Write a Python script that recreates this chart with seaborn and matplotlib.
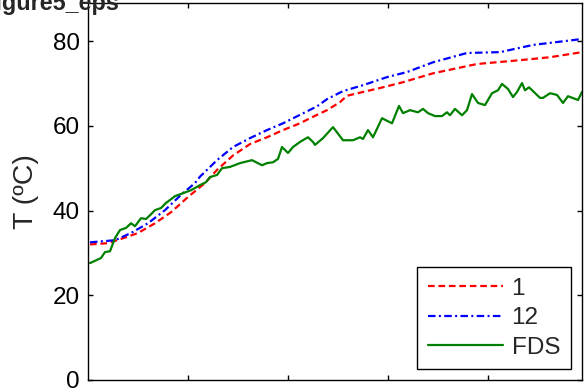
import numpy as np
import pandas as pd
import matplotlib
matplotlib.use("Agg")
import matplotlib.pyplot as plt
import seaborn as sns

# Model runs (cases 1 and 12) sampled on a common time grid
t_case1 = [2, 20, 33, 50, 67, 83, 100, 117, 129, 145, 162, 179, 195, 212, 222,
           239, 252, 259, 275, 295, 315, 335, 345, 389, 432, 462, 494]
temp_case1 = [32.0, 32.3, 33.3, 34.7, 37.0, 39.6, 43.2, 46.5, 49.6, 53.0, 55.7,
              57.3, 59.0, 60.6, 61.8, 63.7, 65.6, 67.1, 68.0, 69.1, 70.3, 71.7,
              72.4, 74.6, 75.5, 76.2, 77.4]

t_case12 = [2, 27, 43, 60, 77, 93, 107, 112, 129, 145, 162, 179, 195, 212, 229,
            239, 255, 275, 299, 319, 345, 379, 412, 445, 494]
temp_case12 = [32.5, 33.0, 34.7, 37.0, 40.1, 43.7, 46.5, 48.0, 51.9, 55.0, 57.1,
               59.0, 60.6, 62.6, 64.6, 66.3, 68.2, 69.6, 71.5, 72.7, 75.0, 77.2,
               77.4, 79.1, 80.5]

# FDS simulation
t_fds = [2, 13, 17, 22, 27, 32, 38, 43, 47, 53, 58, 62, 67, 73, 78, 82, 87, 95,
         103, 112, 118, 122, 129, 134, 142, 152, 164, 174, 179, 185, 190, 194,
         200, 205, 212, 217, 220, 225, 227, 235, 245, 255, 265, 272, 275, 280,
         285, 294, 304, 311, 315, 322, 330, 335, 340, 347, 354, 359, 362, 367,
         374, 379, 384, 390, 397, 404, 410, 414, 420, 425, 429, 434, 437, 441,
         452, 455, 462, 469, 475, 480, 490, 494]
temp_fds = [27.6, 28.8, 30.2, 30.4, 33.5, 35.4, 35.9, 37.0, 36.3, 38.2, 38.0,
            38.9, 40.1, 40.6, 41.8, 42.5, 43.4, 44.1, 44.8, 46.0, 46.7, 47.9,
            48.4, 50.0, 50.3, 51.2, 51.9, 50.7, 51.2, 51.4, 52.2, 55.0, 53.6,
            55.0, 56.2, 56.9, 57.3, 56.2, 55.5, 57.1, 59.7, 56.6, 56.6, 57.3,
            56.9, 59.0, 57.3, 61.8, 60.6, 64.7, 63.0, 63.7, 63.2, 64.0, 63.0,
            62.3, 62.3, 63.2, 62.5, 64.0, 62.5, 63.7, 67.5, 65.4, 64.9, 67.7,
            68.4, 69.9, 68.7, 66.8, 68.0, 70.1, 68.4, 69.1, 66.6, 66.6, 67.7,
            67.3, 65.4, 67.0, 66.1, 68.0]

labels = ["1", "12", "FDS"]
y_ticks = [0, 20, 40, 60, 80]
x_ticks = [100, 200, 300, 400]

sns.set_theme(style="white")
plt.rcParams["font.family"] = ["Liberation Sans", "DejaVu Sans"]

fig = plt.figure(figsize=(5.84, 3.91), dpi=100)
ax = fig.add_axes([88 / 584, 1 - 380 / 391, 494 / 584, 377 / 391])

sns.lineplot(x=t_case1, y=temp_case1, ax=ax, color=(1, 0, 0), lw=1.6,
             linestyle=(0, (3.0, 1.7)), label=labels[0])
sns.lineplot(x=t_case12, y=temp_case12, ax=ax, color=(0, 0, 1), lw=1.6,
             linestyle=(0, (3.4, 1.5, 0.9, 1.5)), label=labels[1])
sns.lineplot(x=t_fds, y=temp_fds, ax=ax, color=(0, 0.5, 0), lw=1.6,
             label=labels[2])

ax.set_xlim(0, 494)
ax.set_ylim(0, 89)
ax.set_xticks(x_ticks)
ax.set_xticklabels([])
ax.set_yticks(y_ticks)
ax.set_yticklabels([str(v) for v in y_ticks], fontsize=17.5)
ax.set_xlabel("")
ax.set_ylabel("T (ºC)", fontsize=20.5, labelpad=10)

for side in ["left", "right", "top", "bottom"]:
    ax.spines[side].set_visible(True)
    ax.spines[side].set_color("black")
    ax.spines[side].set_linewidth(1.0)
ax.tick_params(direction="in", length=3.5, width=1.0, color="black",
               top=True, right=True, bottom=True, left=True, pad=6,
               labelcolor="black")

leg = ax.legend(loc="lower right", bbox_to_anchor=(0.9777, 0.028),
                borderaxespad=0, fontsize=17.5, frameon=True, fancybox=False,
                edgecolor="black", framealpha=1, handlelength=3.1,
                handletextpad=0.35, labelspacing=0.3, borderpad=0.45)
leg.get_frame().set_linewidth(1.0)

fig.text(119 / 584, 1 - 10 / 391, "Figure5_eps", ha="right", va="baseline",
         fontsize=16.8, fontweight="bold")

fig.savefig("out.png", dpi=100, facecolor="white")
